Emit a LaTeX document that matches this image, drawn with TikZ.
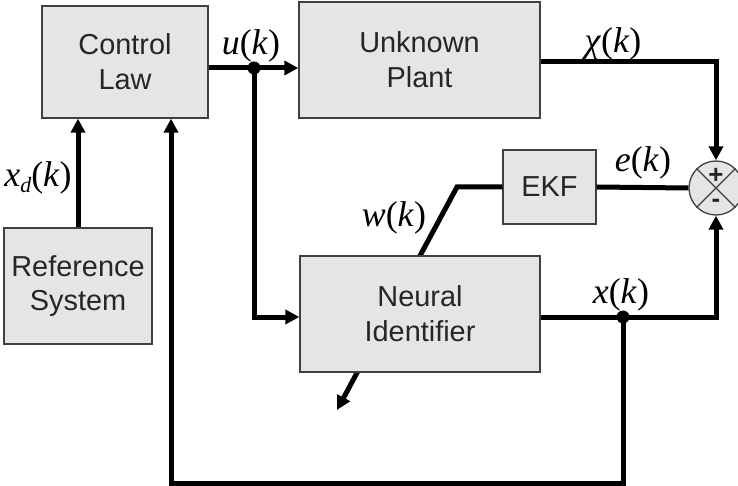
\documentclass[tikz,border=0pt]{standalone}
\usepackage{fontspec}
\setmainfont{Liberation Sans}
\newfontfamily\sigfont{Liberation Serif}
\usetikzlibrary{arrows.meta}

\begin{document}
\begin{tikzpicture}[x=1bp,y=-1bp,
  blk/.style={draw=black!75,line width=1.3bp,fill=black!10,align=center,inner sep=0pt,
    text=black!85,font=\fontsize{29}{35}\selectfont},
  sig/.style={inner sep=0pt,font=\fontsize{36}{36}\selectfont\sigfont},
  sgn/.style={inner sep=0pt,text=black!85,font=\fontsize{26}{26}\selectfont\bfseries},
  wire/.style={line width=5bp},
  arr/.style={wire,-{Triangle[length=14bp,width=14bp]}},
  dot/.style={circle,fill,inner sep=0pt,minimum size=13bp}]
\useasboundingbox (0,0) rectangle (738,486);

\node[blk,minimum width=166bp,minimum height=112bp] (law) at (125,62) {Control\\Law};
\node[blk,minimum width=241bp,minimum height=116bp] (plant) at (419.5,60) {Unknown\\Plant};
\node[blk,minimum width=148bp,minimum height=116bp] (ref) at (78,286) {Reference\\System};
\node[blk,minimum width=93bp,minimum height=74bp] (ekf) at (549.5,187) {EKF};
\node[blk,circle,minimum size=54bp] (sum) at (716,188) {};
\draw[black!75,line width=1.3bp] (sum.north west) -- (sum.south east)
  (sum.north east) -- (sum.south west);
\node[sgn] (plus) at (716,176) {+};
\node[sgn] (minus) at (716,203) {-};

\coordinate (wa) at (457,187);
\coordinate (wb) at (337,410);
\draw[arr] (ekf.west) -- (wa) -- (wb);
\node[blk,minimum width=240bp,minimum height=116bp] (ni) at (420,314) {Neural\\Identifier};

\coordinate (yk) at (716,62);
\coordinate (fbl) at (171,483);
\coordinate (udot) at (254,68);
\coordinate (xdot) at (623,317);

\draw[wire] (law.east |- udot) -- (udot);
\draw[arr] (udot) -- (plant.west |- udot);
\draw[arr] (udot) |- (ni.west |- xdot);
\draw[arr] (plant.east |- yk) -- (yk) -- (sum.north);
\draw[wire] (ni.east |- xdot) -- (xdot);
\draw[arr] (xdot) -| (sum.south);
\draw[wire] (ekf.east) -- (sum.west);
\draw[arr] (ref.north) -- (ref.north |- law.south);
\draw[arr] (xdot) |- (fbl) -- (fbl |- law.south);
\node[dot] (ujoin) at (udot) {};
\node[dot] (xjoin) at (xdot) {};

\node[sig] (ulbl) at (251,46) {\textit{u}(\textit{k})};
\node[sig] (chilbl) at (613,44) {\textit{χ}(\textit{k})};
\node[sig] (elbl) at (643,163) {\textit{e}(\textit{k})};
\node[sig] (wlbl) at (394,218) {\textit{w}(\textit{k})};
\node[sig] (xlbl) at (621,295) {\textit{x}(\textit{k})};
\node[sig] (xdlbl) at (38,178) {\textit{x}\raisebox{-0.35ex}{\fontsize{22}{22}\selectfont\textit{d}}(\textit{k})};
\end{tikzpicture}
\end{document}
